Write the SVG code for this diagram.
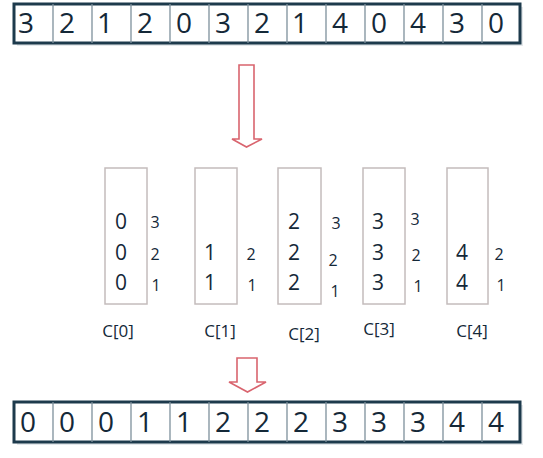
<svg xmlns="http://www.w3.org/2000/svg" width="543" height="458" viewBox="0 0 543 458">
<style>
.frame{fill:#fff;stroke:#1d3a4c;stroke-width:3}
.div{stroke:#7d909b;stroke-width:1.3}
.cell{font-family:"Open Sans","Noto Sans",sans-serif;font-size:28px;fill:#142838;text-anchor:middle}
.box{fill:#fff;stroke:#c4bcbc;stroke-width:1.5}
.val{font-family:"Open Sans","Noto Sans",sans-serif;font-size:21px;fill:#142838;text-anchor:middle}
.idx{font-family:"Open Sans","Noto Sans",sans-serif;font-size:16px;fill:#142838;text-anchor:middle}
.lbl{font-family:"Open Sans","Noto Sans",sans-serif;font-size:17px;fill:#142838;text-anchor:middle}
.arrow{fill:#fff;stroke:#d9646e;stroke-width:1.6;stroke-linejoin:miter}
</style>
<rect width="543" height="458" fill="#fff"/>
<g id="input-array">
<rect x="17" y="7" width="506" height="39" fill="#c9d2d8" opacity="0.5"/>
<rect class="frame" x="14" y="4" width="506" height="39"/>
<g class="div">
<line x1="53" y1="4" x2="53" y2="43"/><line x1="92" y1="4" x2="92" y2="43"/><line x1="131" y1="4" x2="131" y2="43"/><line x1="170" y1="4" x2="170" y2="43"/><line x1="209" y1="4" x2="209" y2="43"/><line x1="248" y1="4" x2="248" y2="43"/><line x1="287" y1="4" x2="287" y2="43"/><line x1="326" y1="4" x2="326" y2="43"/><line x1="365" y1="4" x2="365" y2="43"/><line x1="404" y1="4" x2="404" y2="43"/><line x1="443" y1="4" x2="443" y2="43"/><line x1="482" y1="4" x2="482" y2="43"/>
</g>
<g class="cell">
<text x="26" y="33">3</text><text x="67" y="33">2</text><text x="105" y="33">1</text><text x="145" y="33">2</text><text x="184" y="33">0</text><text x="223" y="33">3</text><text x="262" y="33">2</text><text x="300" y="33">1</text><text x="340" y="33">4</text><text x="379" y="33">0</text><text x="418" y="33">4</text><text x="457" y="33">3</text><text x="496" y="33">0</text>
</g>
</g>
<g id="connectors">
<path class="arrow" d="M239,65 H254 V139 H262 L246.5,147 L232,139 H239 Z"/>
<path class="arrow" d="M237,358 H257 V382 H266 L247.5,392 L229,382 H237 Z"/>
</g>
<g id="c0">
<rect class="box" x="105" y="168" width="42" height="136"/>
<text class="val" x="121" y="229">0</text><text class="val" x="121" y="260">0</text><text class="val" x="121" y="290">0</text>
<text class="idx" x="155" y="228">3</text><text class="idx" x="155" y="260">2</text><text class="idx" x="156" y="291">1</text>
<text class="lbl" x="118" y="337">C[0]</text>
</g>
<g id="c1">
<rect class="box" x="195" y="168" width="42" height="136"/>
<text class="val" x="210" y="260">1</text><text class="val" x="210" y="290">1</text>
<text class="idx" x="251" y="260">2</text><text class="idx" x="252" y="291">1</text>
<text class="lbl" x="220" y="337">C[1]</text>
</g>
<g id="c2">
<rect class="box" x="278" y="168" width="43" height="136"/>
<text class="val" x="294" y="229">2</text><text class="val" x="294" y="260">2</text><text class="val" x="294" y="290">2</text>
<text class="idx" x="336" y="229">3</text><text class="idx" x="333" y="266">2</text><text class="idx" x="335" y="297">1</text>
<text class="lbl" x="304" y="340">C[2]</text>
</g>
<g id="c3">
<rect class="box" x="363" y="168" width="42" height="136"/>
<text class="val" x="378" y="229">3</text><text class="val" x="378" y="260">3</text><text class="val" x="378" y="290">3</text>
<text class="idx" x="415" y="225">3</text><text class="idx" x="416" y="261">2</text><text class="idx" x="418" y="292">1</text>
<text class="lbl" x="379" y="335">C[3]</text>
</g>
<g id="c4">
<rect class="box" x="447" y="168" width="41" height="136"/>
<text class="val" x="462" y="260">4</text><text class="val" x="462" y="290">4</text>
<text class="idx" x="499" y="260">2</text><text class="idx" x="501" y="291">1</text>
<text class="lbl" x="472" y="337">C[4]</text>
</g>
<g id="output-array">
<rect x="17" y="405" width="506" height="40" fill="#c9d2d8" opacity="0.5"/>
<rect class="frame" x="14" y="402" width="506" height="40"/>
<g class="div">
<line x1="53" y1="402" x2="53" y2="442"/><line x1="92" y1="402" x2="92" y2="442"/><line x1="131" y1="402" x2="131" y2="442"/><line x1="170" y1="402" x2="170" y2="442"/><line x1="209" y1="402" x2="209" y2="442"/><line x1="248" y1="402" x2="248" y2="442"/><line x1="287" y1="402" x2="287" y2="442"/><line x1="326" y1="402" x2="326" y2="442"/><line x1="365" y1="402" x2="365" y2="442"/><line x1="404" y1="402" x2="404" y2="442"/><line x1="443" y1="402" x2="443" y2="442"/><line x1="482" y1="402" x2="482" y2="442"/>
</g>
<g class="cell">
<text x="28" y="432">0</text><text x="67" y="432">0</text><text x="106" y="432">0</text><text x="145" y="432">1</text><text x="184" y="432">1</text><text x="223" y="432">2</text><text x="262" y="432">2</text><text x="301" y="432">2</text><text x="340" y="432">3</text><text x="379" y="432">3</text><text x="418" y="432">3</text><text x="457" y="432">4</text><text x="496" y="432">4</text>
</g>
</g>
</svg>
